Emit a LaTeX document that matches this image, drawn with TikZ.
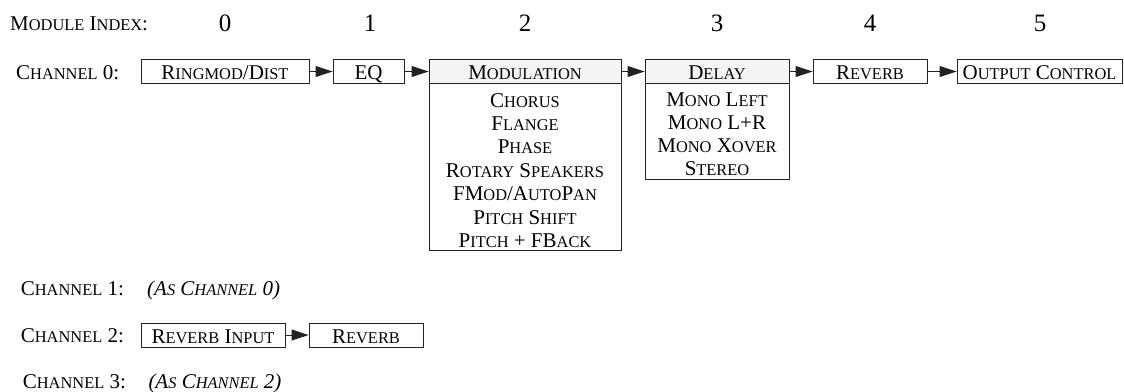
\documentclass[tikz,border=0pt]{standalone}
\usepackage{fontspec}
\setmainfont{Liberation Serif}
\usetikzlibrary{arrows.meta}
\newcommand\sm[1]{{\fontsize{16.4}{16.4}\selectfont #1}}
\definecolor{hdr}{HTML}{F4F4F4}
\definecolor{ln}{HTML}{222222}
\begin{document}
\begin{tikzpicture}[x=1pt,y=-1pt,
  txt/.style={inner sep=0pt,font=\fontsize{21}{21}\selectfont},
  lbl/.style={txt,anchor=base west},
  item/.style={txt,anchor=base},
  idx/.style={inner sep=0pt,anchor=base,font=\fontsize{25}{25}\selectfont},
  box/.style={draw=ln,line width=0.9pt,inner xsep=0pt,inner ysep=0pt,
    text height=20pt,text depth=4pt,minimum height=24pt,
    font=\fontsize{21}{21}\selectfont,fill=white},
  hbox/.style={box,fill=hdr},
  listbox/.style={draw=ln,line width=0.9pt,inner sep=0pt},
  flow/.style={draw=ln,line width=0.9pt,-{Triangle[length=17pt,width=11pt]}}]
\useasboundingbox (0,0) rectangle (1124,391);
% module index row
\node[lbl] (mi) at (10,30.7) {M\sm{ODULE} I\sm{NDEX}:};
\node[idx] (i0) at (225,31.5) {0};
\node[idx] (i1) at (370,31.5) {1};
\node[idx] (i2) at (525,31.5) {2};
\node[idx] (i3) at (717,31.5) {3};
\node[idx] (i4) at (870,31.5) {4};
\node[idx] (i5) at (1040,31.5) {5};
% channel 0
\node[lbl] (c0) at (16,79.5) {C\sm{HANNEL} 0:};
\node[box,minimum width=168pt] (ring) at (225,71.5) {R\sm{INGMOD}/D\sm{IST}};
\node[box,minimum width=71pt] (eq) at (368.5,71.5) {EQ};
\node[listbox,minimum width=192pt,minimum height=167.2pt] (modl) at (525,167.1) {};
\node[hbox,minimum width=192pt] (mod) at (525,71.5) {M\sm{ODULATION}};
\node[listbox,minimum width=144pt,minimum height=95.8pt] (dell) at (717,131.4) {};
\node[hbox,minimum width=144pt] (del) at (717,71.5) {D\sm{ELAY}};
\node[box,minimum width=114pt] (rev) at (870,71.5) {R\sm{EVERB}};
\node[box,minimum width=165pt] (out) at (1039.5,71.5) {O\sm{UTPUT} C\sm{ONTROL}};
\draw[flow] (ring.east) -- (eq.west);
\draw[flow] (eq.east) -- (mod.west);
\draw[flow] (mod.east) -- (del.west);
\draw[flow] (del.east) -- (rev.west);
\draw[flow] (rev.east) -- (out.west);
% modulation items
\node[item] (m1) at (525,107) {C\sm{HORUS}};
\node[item] (m2) at (525,130.4) {F\sm{LANGE}};
\node[item] (m3) at (525,153.8) {P\sm{HASE}};
\node[item] (m4) at (525,177.2) {R\sm{OTARY} S\sm{PEAKERS}};
\node[item] (m5) at (525,200.6) {FM\sm{OD}/A\sm{UTO}P\sm{AN}};
\node[item] (m6) at (525,224) {P\sm{ITCH} S\sm{HIFT}};
\node[item] (m7) at (525,247.4) {P\sm{ITCH} + FB\sm{ACK}};
% delay items
\node[item] (d1) at (717,106) {M\sm{ONO} L\sm{EFT}};
\node[item] (d2) at (717,129) {M\sm{ONO} L+R};
\node[item] (d3) at (717,152) {M\sm{ONO} X\sm{OVER}};
\node[item] (d4) at (717,175) {S\sm{TEREO}};
% channel 1
\node[lbl] (c1) at (20.7,295) {C\sm{HANNEL} 1:};
\node[lbl] (c1a) at (147,295) {\itshape (A\sm{S} C\sm{HANNEL} 0)};
% channel 2
\node[lbl] (c2) at (20.7,342.5) {C\sm{HANNEL} 2:};
\node[box,minimum width=144pt] (rin) at (213,335) {R\sm{EVERB} I\sm{NPUT}};
\node[box,minimum width=114pt] (rev2) at (366,335) {R\sm{EVERB}};
\draw[flow] (rin.east) -- (rev2.west);
% channel 3
\node[lbl] (c3) at (22.7,388.5) {C\sm{HANNEL} 3:};
\node[lbl] (c3a) at (148.3,388.5) {\itshape (A\sm{S} C\sm{HANNEL} 2)};
\end{tikzpicture}
\end{document}
